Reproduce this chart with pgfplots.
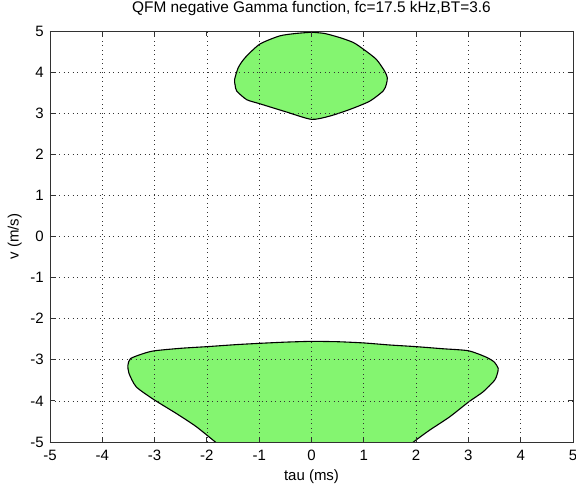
\documentclass[border=0pt]{standalone}
\usepackage{pgfplots}
\pgfplotsset{compat=1.18}
\usepackage{fontspec}
\setmainfont{Liberation Sans}
\definecolor{blobgreen}{RGB}{132,245,112}
\definecolor{axgray}{RGB}{50,50,50}

\begin{document}
\begin{tikzpicture}
\useasboundingbox (-50bp,-48bp) rectangle (526bp,442bp);
\begin{axis}[
    scale only axis, width=523bp, height=411bp,
    at={(0,0)}, anchor=south west,
    xmin=-5, xmax=5, ymin=-5, ymax=5,
    xtick={-5,-4,...,5}, ytick={-5,-4,...,5},
    tick align=inside, major tick length=5bp,
    axis on top,
    grid=major,
    grid style={black!80, line width=0.7pt, dash pattern=on 0.9bp off 3.6bp},
    axis line style={axgray, line width=1pt},
    tick style={axgray, line width=0.9pt},
    font=\fontsize{15bp}{18bp}\selectfont,
    /pgf/number format/assume math mode=true,
    xticklabel style={anchor=base, inner sep=0pt, yshift=-18.8bp},
    yticklabel style={anchor=east, inner sep=0pt, xshift=-6bp},
    title={QFM negative Gamma function, fc=17.5 kHz,BT=3.6},
    title style={at={(axis description cs:0.5,1.0316)}, anchor=base, inner sep=0pt,
                 font=\fontsize{15.4bp}{18bp}\selectfont},
    xlabel={tau (ms)},
    xlabel style={at={(axis description cs:0.5,-0.0937)}, anchor=base, inner sep=0pt},
    ylabel={v (m/s)},
    ylabel style={at={(axis description cs:-0.0600,0.5)}, anchor=base, inner sep=0pt},
]
% upper lobe
\addplot[fill=blobgreen, draw=black, line width=1.1pt, smooth, tension=0.4] coordinates {
    (0,4.97) (0.25,4.94) (0.54,4.84) (0.80,4.72) (1.0,4.55) (1.24,4.31)
    (1.40,4.02) (1.45,3.86) (1.43,3.70) (1.37,3.54) (1.11,3.29) (0.73,3.09)
    (0.35,2.93) (0,2.85) (-0.48,3.03) (-0.99,3.23) (-1.24,3.33) (-1.43,3.54)
    (-1.46,3.68) (-1.47,3.82) (-1.40,4.11) (-1.27,4.35) (-0.99,4.68)
    (-0.61,4.88) (-0.30,4.94) (0,4.97)
} -- cycle;
% lower lobe
\addplot[fill=blobgreen, draw=black, line width=1.1pt, smooth, tension=0.4] coordinates {
    (0,-2.55) (0.5,-2.56) (1,-2.59) (1.5,-2.64) (2,-2.68) (2.5,-2.73)
    (3,-2.78) (3.33,-2.93) (3.49,-3.05) (3.57,-3.21) (3.55,-3.35) (3.50,-3.50)
    (3.28,-3.78) (3.01,-4.02) (2.64,-4.39) (2.26,-4.71) (1.99,-4.96) (1.85,-5.10)
    (1.6,-5.3) (-1.5,-5.3)
    (-1.74,-5.10) (-2.2,-4.63) (-2.58,-4.31) (-3.0,-3.98) (-3.35,-3.66)
    (-3.49,-3.33) (-3.51,-3.13) (-3.46,-2.97) (-3.22,-2.85) (-3,-2.78)
    (-2.5,-2.72) (-2,-2.68) (-1.43,-2.63) (-1,-2.60) (-0.5,-2.57) (0,-2.55)
} -- cycle;
\end{axis}
\end{tikzpicture}
\end{document}
